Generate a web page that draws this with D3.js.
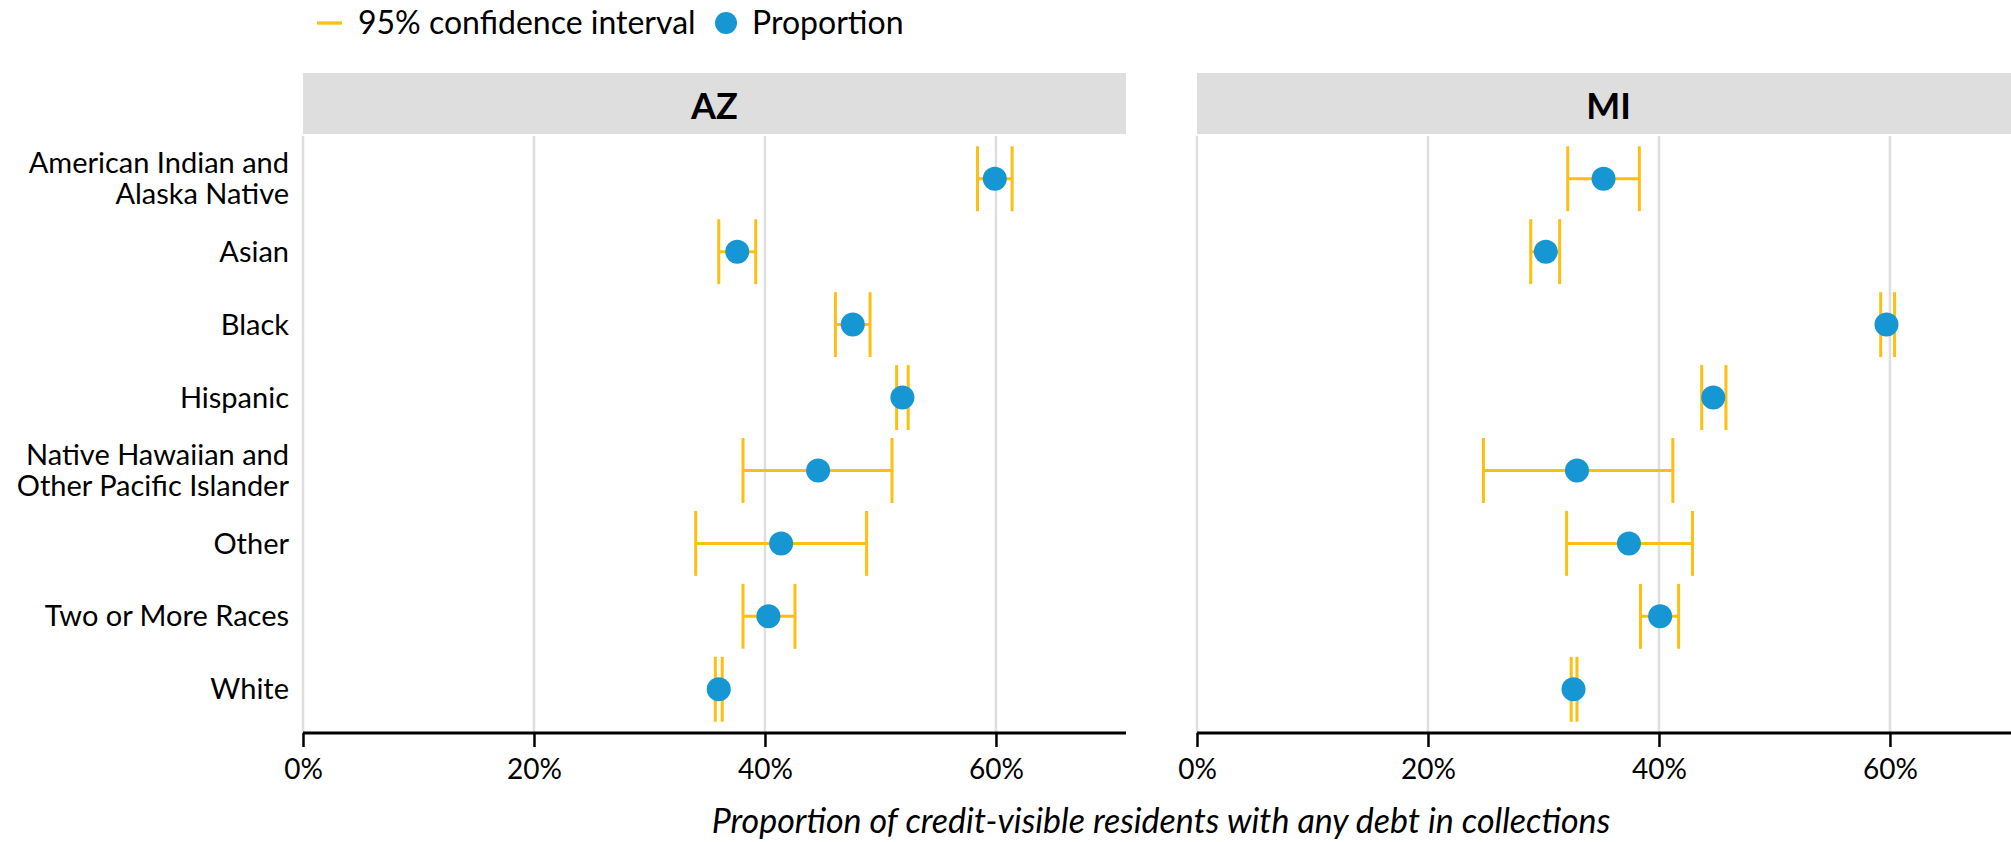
<!DOCTYPE html>
<html>
<head>
<meta charset="utf-8">
<script src="https://cdn.jsdelivr.net/npm/d3@7"></script>
<style>
  html, body { margin: 0; padding: 0; background: #fff; }
  svg { display: block; font-family: Lato, "Open Sans", sans-serif; }
</style>
</head>
<body>
<svg id="chart" width="2011" height="842"></svg>
<script>
// Debt in collections by race/ethnicity, AZ vs MI.
const categories = [
  'American Indian and\nAlaska Native',
  'Asian',
  'Black',
  'Hispanic',
  'Native Hawaiian and\nOther Pacific Islander',
  'Other',
  'Two or More Races',
  'White'
];
const states = ['AZ', 'MI'];

const azEst  = [0.599, 0.376, 0.476, 0.519, 0.446, 0.414, 0.403, 0.360];
const azLow  = [0.584, 0.360, 0.461, 0.514, 0.381, 0.340, 0.381, 0.357];
const azHigh = [0.614, 0.392, 0.491, 0.524, 0.510, 0.488, 0.426, 0.363];

const miEst  = [0.352, 0.302, 0.597, 0.447, 0.329, 0.374, 0.401, 0.326];
const miLow  = [0.321, 0.289, 0.592, 0.437, 0.248, 0.320, 0.384, 0.324];
const miHigh = [0.383, 0.314, 0.604, 0.458, 0.412, 0.429, 0.417, 0.329];

const xTicks = [0, 0.2, 0.4, 0.6];

const BLUE = '#1696d2';
const YELLOW = '#fdbf11';
const GRID = '#dedede';

const svg = d3.select('#chart');

const panelTop = 135, panelBottom = 733;
const panelW = 823;
const panelX = [303, 1197];

const y = d3.scalePoint().domain(categories).range([panelTop, panelBottom]).padding(0.6);
const capHalf = y.step() * 0.445;

const seriesByState = {
  AZ: categories.map((c, i) => ({ cat: c, est: azEst[i], lo: azLow[i], hi: azHigh[i] })),
  MI: categories.map((c, i) => ({ cat: c, est: miEst[i], lo: miLow[i], hi: miHigh[i] }))
};

// legend
const leg = svg.append('g').attr('transform', 'translate(317,23)');
leg.append('line').attr('x1', 0).attr('x2', 25).attr('y1', 0).attr('y2', 0)
  .attr('stroke', YELLOW).attr('stroke-width', 3.3);
leg.append('text').attr('x', 41).attr('y', 0).attr('dy', '0.35em')
  .attr('font-size', 32).attr('fill', '#000').text('95% confidence interval');
leg.append('circle').attr('cx', 409).attr('cy', 0).attr('r', 11).attr('fill', BLUE);
leg.append('text').attr('x', 435).attr('y', 0).attr('dy', '0.35em')
  .attr('font-size', 32).attr('fill', '#000').text('Proportion');

// y labels
const ylab = svg.append('g');
categories.forEach((c) => {
  const lines = c.split('\n');
  const t = ylab.append('text')
    .attr('x', 289).attr('text-anchor', 'end')
    .attr('font-size', 29).attr('fill', '#000');
  lines.forEach((ln, k) => {
    t.append('tspan').attr('x', 289)
      .attr('y', y(c) + (k - (lines.length - 1) / 2) * 31)
      .attr('dy', '0.35em').text(ln);
  });
});

states.forEach((st, si) => {
  const x0 = panelX[si];
  const x = d3.scaleLinear().domain([0, 0.7126]).range([x0, x0 + panelW]);
  const g = svg.append('g');

  // strip
  g.append('rect').attr('x', x0).attr('y', 73).attr('width', panelW).attr('height', 61)
    .attr('fill', GRID);
  g.append('text').attr('x', x0 + panelW / 2).attr('y', 106).attr('dy', '0.35em')
    .attr('text-anchor', 'middle').attr('font-size', 36).attr('font-weight', 700)
    .attr('fill', '#000').text(st);

  // grid
  g.selectAll('line.grid').data(xTicks).join('line').attr('class', 'grid')
    .attr('x1', d => x(d)).attr('x2', d => x(d))
    .attr('y1', panelTop + 1).attr('y2', panelBottom)
    .attr('stroke', GRID).attr('stroke-width', 2.5);

  const data = seriesByState[st];

  // error bars
  g.selectAll('line.bar').data(data).join('line').attr('class', 'bar')
    .attr('x1', d => x(d.lo)).attr('x2', d => x(d.hi))
    .attr('y1', d => y(d.cat)).attr('y2', d => y(d.cat))
    .attr('stroke', YELLOW).attr('stroke-width', 3);
  ['lo', 'hi'].forEach((k) => {
    g.selectAll('line.cap-' + k).data(data).join('line').attr('class', 'cap-' + k)
      .attr('x1', d => x(d[k])).attr('x2', d => x(d[k]))
      .attr('y1', d => y(d.cat) - capHalf).attr('y2', d => y(d.cat) + capHalf)
      .attr('stroke', YELLOW).attr('stroke-width', 3);
  });

  // points
  g.selectAll('circle.pt').data(data).join('circle').attr('class', 'pt')
    .attr('cx', d => x(d.est)).attr('cy', d => y(d.cat)).attr('r', 12)
    .attr('fill', BLUE);

  // x axis
  const ax = g.append('g').attr('transform', `translate(0,${panelBottom})`)
    .call(d3.axisBottom(x).tickValues(xTicks).tickFormat(d3.format('.0%'))
      .tickSize(14).tickPadding(12));
  ax.select('.domain').attr('stroke', '#000').attr('stroke-width', 3)
    .attr('d', `M${x0},0H${x0 + panelW}`);
  ax.selectAll('.tick line').attr('stroke', '#000').attr('stroke-width', 2.5);
  ax.selectAll('.tick text').attr('font-size', 28).attr('fill', '#000')
    .attr('font-family', 'Lato, sans-serif');
});

svg.append('text').attr('x', 1161).attr('y', 821).attr('dy', '0.35em')
  .attr('text-anchor', 'middle').attr('font-size', 34).attr('font-style', 'italic')
  .attr('fill', '#000')
  .text('Proportion of credit-visible residents with any debt in collections');
</script>
</body>
</html>
